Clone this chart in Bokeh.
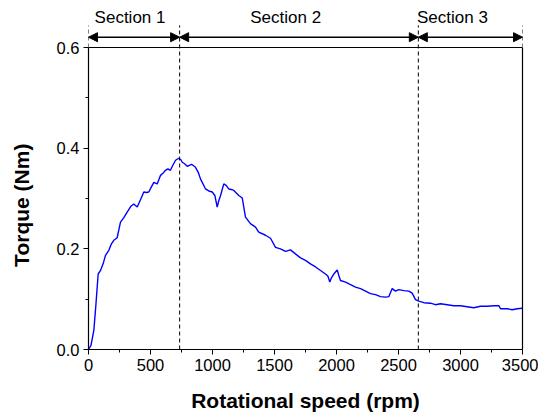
from bokeh.plotting import figure
from bokeh.models import Range1d, LinearAxis, FixedTicker, Arrow, NormalHead, PrintfTickFormatter
from bokeh.embed import file_html
from bokeh.resources import INLINE
from bokeh.core.properties import value

speed = [0, 20, 43, 60, 78, 97, 120, 137, 164, 185,
         204, 231, 245, 258, 285, 312, 340, 365, 393, 420,
         446, 466, 486, 505, 527, 554, 581, 600, 621, 640,
         661, 680, 702, 728, 745, 756, 775, 796, 831, 863,
         885, 903, 944, 970, 998, 1019, 1038, 1050, 1065, 1091,
         1110, 1131, 1150, 1172, 1212, 1240, 1266, 1306, 1347, 1373,
         1401, 1427, 1468, 1508, 1548, 1589, 1629, 1669, 1710, 1750,
         1790, 1831, 1871, 1911, 1930, 1946, 1960, 1978, 2006, 2020,
         2032, 2073, 2113, 2153, 2194, 2234, 2274, 2315, 2355, 2395,
         2422, 2449, 2476, 2502, 2543, 2583, 2610, 2637, 2664, 2704,
         2758, 2798, 2839, 2893, 2946, 3000, 3054, 3107, 3161, 3215,
         3269, 3309, 3323, 3377, 3417, 3457, 3498]
torque = [0.0, 0.008, 0.038, 0.090, 0.150, 0.157, 0.172, 0.187, 0.197, 0.210,
          0.217, 0.222, 0.238, 0.253, 0.262, 0.273, 0.284, 0.289, 0.283, 0.298,
          0.313, 0.312, 0.313, 0.322, 0.332, 0.329, 0.346, 0.350, 0.356, 0.359,
          0.356, 0.366, 0.376, 0.380, 0.377, 0.372, 0.369, 0.364, 0.368, 0.362,
          0.352, 0.339, 0.319, 0.315, 0.313, 0.306, 0.283, 0.295, 0.306, 0.329,
          0.326, 0.319, 0.318, 0.316, 0.306, 0.301, 0.263, 0.250, 0.243, 0.233,
          0.230, 0.227, 0.221, 0.203, 0.200, 0.195, 0.198, 0.190, 0.182, 0.177,
          0.170, 0.164, 0.157, 0.150, 0.146, 0.134, 0.143, 0.150, 0.158, 0.146,
          0.137, 0.134, 0.129, 0.124, 0.121, 0.116, 0.111, 0.109, 0.105, 0.104,
          0.105, 0.121, 0.116, 0.119, 0.117, 0.116, 0.112, 0.099, 0.096, 0.093,
          0.092, 0.089, 0.091, 0.089, 0.087, 0.087, 0.085, 0.083, 0.086, 0.086,
          0.087, 0.087, 0.081, 0.081, 0.079, 0.081, 0.082]

section_bounds = [0, 735, 2660, 3500]
section_labels = ["Section 1", "Section 2", "Section 3"]
section_label_x = [335, 1590, 2935]
section_label_y = 0.66
arrow_y = 0.6205
dash_top = 0.644

y_ticks = [0.0, 0.2, 0.4, 0.6]
y_minor = [0.1, 0.3, 0.5]
x_ticks = [0, 500, 1000, 1500, 2000, 2500, 3000, 3500]
x_minor = [250, 750, 1250, 1750, 2250, 2750, 3250]

FONT = "Liberation Sans"

p = figure(frame_width=434, frame_height=341,
           x_range=Range1d(0, 3500), y_range=Range1d(0, 0.6775),
           output_backend="svg", toolbar_location=None,
           min_border_left=88, min_border_top=8, min_border_right=16, min_border_bottom=40)
p.grid.visible = False
p.outline_line_color = None
p.background_fill_color = "white"

for ax in (p.xaxis, p.yaxis):
    ax.major_tick_in = 0
    ax.major_tick_out = 5
    ax.minor_tick_in = 0
    ax.minor_tick_out = 3
    ax.axis_line_color = "black"
    ax.axis_line_width = 1.2
    ax.major_tick_line_color = "black"
    ax.minor_tick_line_color = "black"
    ax.major_label_text_font = FONT
    ax.major_label_text_font_size = "16.5px"
    ax.major_label_text_color = "black"
    ax.axis_label_text_font = FONT
    ax.axis_label_text_font_size = "21px"
    ax.axis_label_text_font_style = "bold"
    ax.axis_label_text_color = "black"
    ax.major_label_standoff = 4

p.yaxis.bounds = (0, 0.6)
p.yaxis.ticker = FixedTicker(ticks=y_ticks, minor_ticks=y_minor)
p.yaxis.formatter = PrintfTickFormatter(format="%.1f")
# trailing no-break spaces move the (rotated) title down so it sits centred on the 0-0.6 axis
p.yaxis.axis_label = "Torque (Nm)" + "\u00a0" * 9
p.yaxis.axis_label_standoff = 21

p.xaxis.ticker = FixedTicker(ticks=x_ticks, minor_ticks=x_minor)
p.xaxis.axis_label = "Rotational speed (rpm)"
p.xaxis.axis_label_standoff = 15

right = LinearAxis(bounds=(0, 0.6), ticker=FixedTicker(ticks=[]),
                   major_tick_out=0, minor_tick_out=0, major_tick_in=0, minor_tick_in=0,
                   axis_line_color="black", axis_line_width=1.2)
p.add_layout(right, "right")

# top border of the box
p.segment(x0=[section_bounds[0]], y0=[y_ticks[-1]], x1=[section_bounds[-1]], y1=[y_ticks[-1]],
          line_color="black", line_width=1.2)

# data curve
p.line(speed, torque, line_color="#0000ff", line_width=1.4)

# dashed section boundaries
y0s = [y_ticks[-1], 0, 0, y_ticks[-1]]
p.segment(x0=section_bounds, y0=y0s, x1=section_bounds, y1=[dash_top] * 4,
          line_color="black", line_width=1, line_dash="4 3")

# arrows
for i in range(3):
    p.add_layout(Arrow(start=NormalHead(size=9, fill_color="black", line_color="black"),
                       end=NormalHead(size=9, fill_color="black", line_color="black"),
                       x_start=section_bounds[i], x_end=section_bounds[i + 1],
                       y_start=arrow_y, y_end=arrow_y,
                       line_color="black", line_width=1.5))

p.text(x=section_label_x, y=[section_label_y] * 3, text=section_labels,
       text_font=value(FONT), text_font_size="17px", text_align="center",
       text_baseline="middle", text_color="black")

open("out.html", "w").write(file_html(p, INLINE))
